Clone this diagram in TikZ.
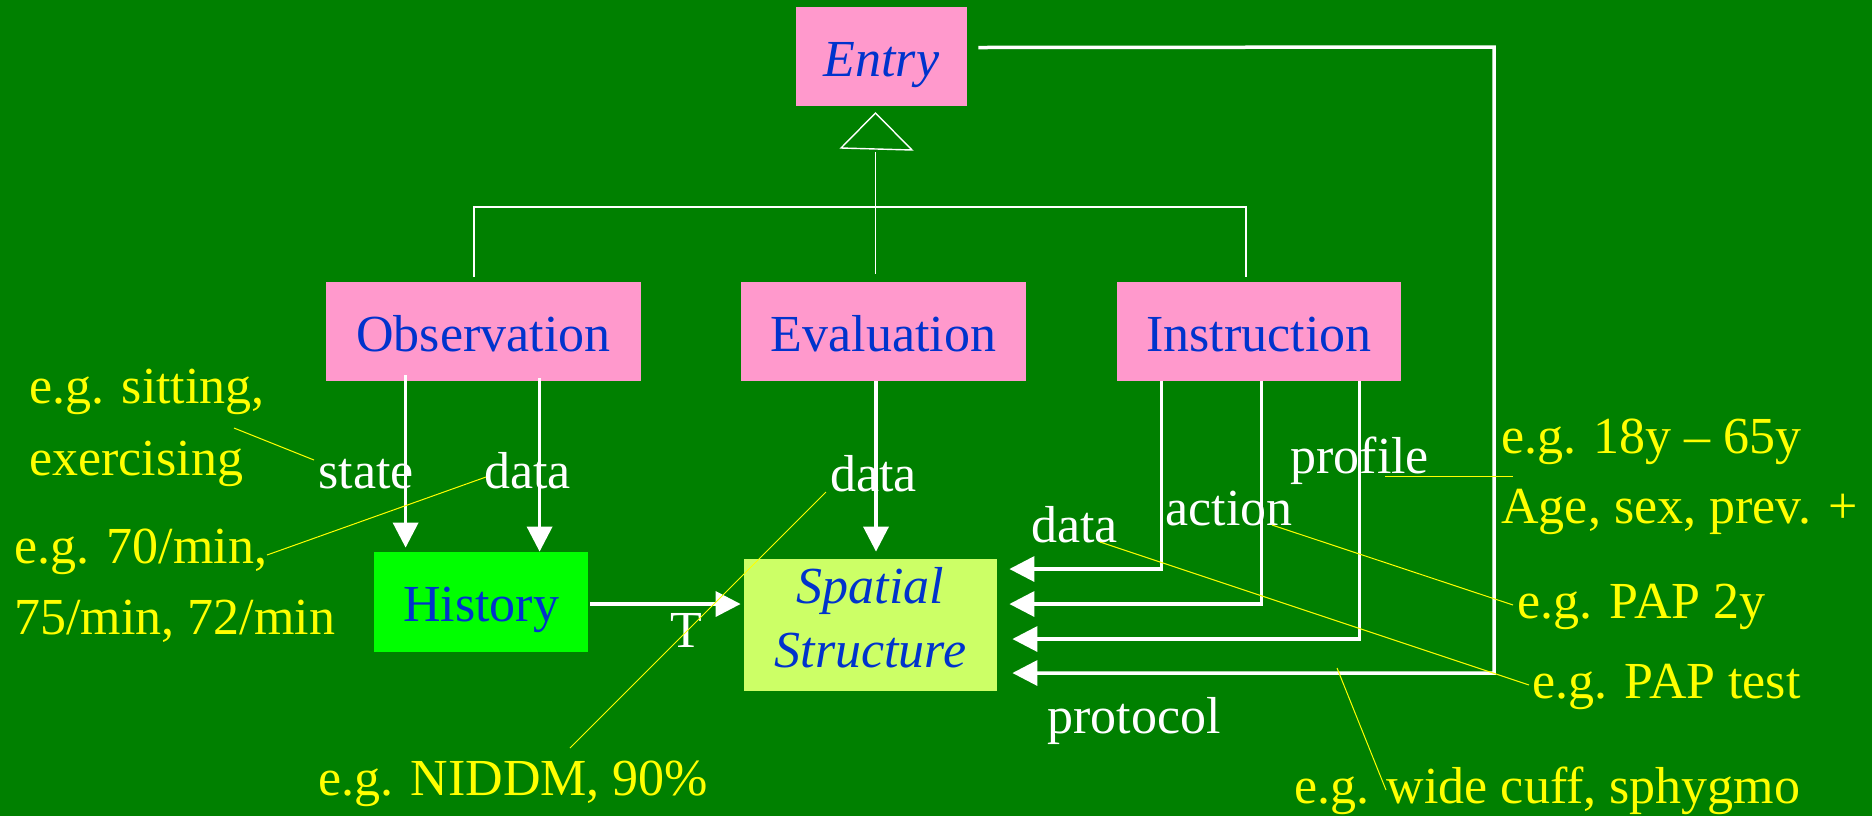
\documentclass[tikz,border=0pt]{standalone}
\usepackage{fontspec}
\setmainfont{Liberation Serif}
\usetikzlibrary{arrows.meta,calc}
\definecolor{bggreen}{RGB}{0,128,0}
\definecolor{boxpink}{RGB}{255,153,204}
\definecolor{txtblue}{RGB}{0,51,204}
\definecolor{histgreen}{RGB}{0,255,0}
\definecolor{spatialgreen}{RGB}{204,255,102}
\definecolor{noteyellow}{RGB}{255,255,0}
\begin{document}
\begin{tikzpicture}[x=0.5pt,y=-0.5pt,
  every node/.style={font=\fontsize{26}{31}\selectfont, inner sep=0pt},
  boxtext/.style={text=txtblue, text height=19.5pt, text depth=0pt},
  classbox/.style={fill=boxpink, boxtext},
  flow/.style={draw=white, line width=1.75pt, -{Triangle[length=12.5pt,width=12.5pt]}},
  tree/.style={draw=white, line width=0.7pt},
  lbl/.style={text=white, anchor=base west},
  note/.style={text=noteyellow, anchor=base west},
  leader/.style={draw=noteyellow, line width=0.5pt}]

% canvas
\fill[bggreen] (0,0) rectangle (1872,816);
\useasboundingbox (0,0) rectangle (1872,816);

% classes
\node[classbox, minimum width=85.5pt, minimum height=49.5pt] (Entry) at (881.5,56.5) {\itshape Entry};
\node[classbox, minimum width=157.5pt, minimum height=49.5pt] (Observation) at (483.5,331.5) {Observation};
\node[classbox, minimum width=142.5pt, minimum height=49.5pt] (Evaluation) at (883.5,331.5) {Evaluation};
\node[classbox, minimum width=142pt, minimum height=49.5pt] (Instruction) at (1259,331.5) {Instruction};
\node[fill=histgreen, boxtext, minimum width=107pt, minimum height=50pt] (History) at (481,602) {History};
\node[fill=spatialgreen, minimum width=126.5pt, minimum height=66pt] (Spatial) at (870.5,625) {};
\node[text=txtblue, anchor=base, font=\fontsize{26}{31}\selectfont\itshape] (SpatialL1) at (870.5,603) {Spatial};
\node[text=txtblue, anchor=base, font=\fontsize{26}{31}\selectfont\itshape] (SpatialL2) at (870.5,667) {Structure};

% generalisation
\coordinate (apex) at (875.5,113);
\draw[tree] (apex) -- (841,148) -- (912,150) -- cycle;
\draw[tree] (875.5,152) -- (875.5,274);
\draw[tree] (474,277) |- (1246,207) -- (1246,277);

% observation -> history
\coordinate (obsState) at ([xshift=40pt,yshift=3pt]Observation.south west);
\coordinate (obsData) at ([xshift=107pt,yshift=1.5pt]Observation.south west);
\draw[flow] (obsState) -- ([yshift=2pt]obsState |- History.north);
\draw[flow] (obsData) -- (obsData |- History.north);

% evaluation -> spatial structure
\coordinate (evalData) at ([xshift=-3.75pt]Evaluation.south);
\draw[flow] (evalData) -- ([yshift=3.5pt]evalData |- Spatial.north);

% history -> spatial structure
\draw[flow] ([xshift=1pt,yshift=-1pt]History.east) -- ([xshift=-1.5pt,yshift=-1pt]Spatial.west |- History.east);

% instruction -> spatial structure
\coordinate (tipA) at ([xshift=6pt,yshift=28pt]Spatial.east);
\coordinate (tipB) at ([xshift=6pt,yshift=10.5pt]Spatial.east);
\coordinate (tipC) at ([xshift=7.5pt,yshift=-7pt]Spatial.east);
\coordinate (tipD) at ([xshift=7.5pt,yshift=-24pt]Spatial.east);
\draw[flow] ([xshift=22.5pt]Instruction.south west) |- (tipA);
\draw[flow] ([xshift=72.5pt]Instruction.south west) |- (tipB);
\draw[flow] ([xshift=121.5pt]Instruction.south west) |- (tipC);

% entry -> spatial structure (protocol)
\coordinate (corner) at (1494,47);
\draw[flow] ([xshift=5.5pt,yshift=4.5pt]Entry.east) -- (corner) |- (tipD);

% role labels
\node[lbl] (lState) at (318,488) {state};
\node[lbl] (lObsData) at (484,488) {data};
\node[lbl] (lEvalData) at (830,491) {data};
\node[lbl] (lT) at (670,647) {T};
\node[lbl] (lInsData) at (1031,542) {data};
\node[lbl] (lAction) at (1165,525) {action};
\node[lbl] (lProfile) at (1290,473) {profile};
\node[lbl] (lProtocol) at (1047,733) {protocol};

% examples
\node[note] (nSitting) at (29,403) {e.g. sitting,};
\node[note] (nExercising) at (29,475) {exercising};
\node[note] (nRate) at (14,563) {e.g. 70/min,};
\node[note] (nRate2) at (14,634) {75/min, 72/min};
\node[note] (nNiddm) at (318,795) {e.g. NIDDM, 90\%};
\node[note] (nAge) at (1501,453) {e.g. 18y – 65y};
\node[note] (nAge2) at (1501,523) {Age, sex, prev. +};
\node[note] (nPap2y) at (1517,618) {e.g. PAP 2y};
\node[note] (nPapTest) at (1532,698) {e.g. PAP test};
\node[note] (nCuff) at (1294,803) {e.g. wide cuff, sphygmo};

% leader lines
\draw[leader] (234,428) -- (314,460);
\draw[leader] (486,477) -- (267,555);
\draw[leader] (826,492) -- (570,748);
\draw[leader] (1385,476) -- (1513,476);
\draw[leader] (1272,525) -- (1513,605);
\draw[leader] (1100,542) -- (1529,685);
\draw[leader] (1337,668) -- (1386,790);
\end{tikzpicture}
\end{document}
